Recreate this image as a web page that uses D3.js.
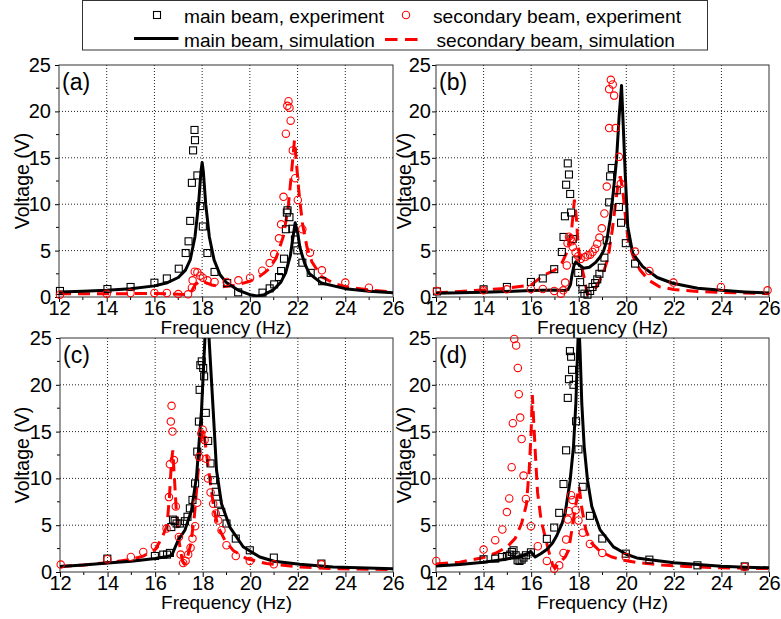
<!DOCTYPE html>
<html><head><meta charset="utf-8">
<script src="https://cdn.jsdelivr.net/npm/d3@7"></script>
<style>body{margin:0;background:#fff} text{font-family:"Liberation Sans",Arial,sans-serif}</style>
</head><body><svg id="chart" width="781" height="619"></svg>
<script>
// ---------- tick labels ----------
const xTicks = [12,14,16,18,20,22,24,26];
const yTicks = [0,5,10,15,20,25];
const xMinor = [13,15,17,19,21,23,25];
const yMinor = [2.5,7.5,12.5,17.5,22.5];
const panelLabels = ["(a)","(b)","(c)","(d)"];
const legendLabels = ["main beam, experiment","secondary beam, experiment","main beam, simulation","secondary beam, simulation"];

// ---------- panel (a) ----------
const aMainExp = [[12.04,0.65],[14.03,0.86],[15.0,1.08],[16.0,1.54],[16.52,2.0],[17.02,3.05],[17.31,4.74],[17.43,6.0],[17.5,8.2],[17.57,12.3],[17.62,15.8],[17.7,16.9],[17.68,18.0],[17.8,13.1],[17.92,9.8],[18.03,7.6],[18.22,4.74],[18.52,2.7],[19.05,1.5],[19.51,0.5],[20.53,0.47],[20.83,0.93],[21.02,1.36],[21.22,2.15],[21.31,2.8],[21.43,4.13],[21.51,7.3],[21.55,9.1],[21.58,9.34],[21.66,8.6],[21.78,7.36],[21.89,6.2],[21.99,5.03],[22.2,3.7],[22.55,2.6],[23.03,1.7]];
const aSecExp = [[12.04,0.25],[14.0,0.36],[15.0,0.43],[16.0,0.43],[16.52,0.43],[17.0,0.32],[17.41,0.29],[17.57,1.0],[17.6,1.8],[17.69,2.73],[17.8,2.66],[17.92,2.3],[18.03,2.08],[18.22,1.8],[18.52,1.62],[19.03,1.62],[19.52,1.8],[20.01,2.08],[20.52,2.84],[20.83,3.66],[21.02,4.63],[21.22,6.32],[21.31,7.83],[21.41,10.8],[21.51,17.6],[21.57,20.6],[21.62,21.1],[21.66,20.4],[21.71,19.0],[21.8,15.8],[21.9,12.8],[22.01,10.45],[22.2,7.3],[22.52,4.78],[23.02,2.87],[24.0,1.55],[24.99,1.0]];
const aMainSim = [[12,0.55],[13,0.62],[14,0.72],[15,0.88],[16,1.2],[16.5,1.5],[17,2.1],[17.3,2.9],[17.5,4.0],[17.7,6.5],[17.85,10],[17.95,13.5],[18.0,14.5],[18.05,13.5],[18.15,10],[18.3,6.5],[18.5,4.0],[18.75,2.4],[19,1.6],[19.5,0.75],[20,0.25],[20.3,0.1],[20.6,0.25],[21,0.8],[21.3,1.6],[21.5,2.6],[21.7,4.5],[21.8,6.3],[21.9,8.0],[22.0,7.0],[22.1,5.3],[22.3,3.6],[22.5,2.5],[23,1.5],[24,0.9],[25,0.62],[26,0.45]];
const aSecSim = [[12,0.35],[14,0.35],[16,0.38],[17,0.3],[17.4,0.25],[17.55,0.6],[17.7,1.3],[17.9,1.7],[18.1,1.6],[18.4,1.3],[18.8,1.1],[19.2,1.2],[19.6,1.4],[20.0,1.7],[20.4,2.2],[20.8,3.0],[21.1,4.2],[21.4,6.5],[21.6,9.5],[21.75,13.5],[21.87,16.9],[21.95,14.5],[22.05,11.5],[22.2,8.0],[22.4,5.3],[22.6,3.8],[23,2.2],[23.5,1.5],[24,1.1],[25,0.75],[26,0.55]];

// ---------- panel (b) ----------
const bMainExp = [[12.04,0.6],[14.0,0.83],[14.98,1.08],[15.99,1.62],[16.49,2.0],[16.97,3.0],[17.29,4.85],[17.36,6.47],[17.42,8.7],[17.47,12.1],[17.54,14.4],[17.59,13.2],[17.64,11.1],[17.68,9.1],[17.75,6.25],[17.88,3.95],[17.98,2.6],[18.06,1.6],[18.16,0.86],[18.24,0.36],[18.37,0.25],[18.48,0.65],[18.58,1.08],[18.69,1.5],[18.78,1.9],[18.87,2.5],[18.97,3.16],[19.08,4.24],[19.18,6.1],[19.28,10.2],[19.32,13.0],[19.39,13.9],[19.6,11.5],[19.69,9.7],[19.78,8.0],[19.98,5.8],[20.37,3.6]];
const bSecExp = [[12.04,0.65],[14.0,0.72],[14.98,0.83],[15.99,0.86],[16.49,0.86],[16.97,0.65],[17.25,0.36],[17.35,0.72],[17.43,1.55],[17.5,3.4],[17.53,5.8],[17.59,6.5],[17.66,6.3],[17.71,6.0],[17.75,5.4],[17.87,4.8],[17.98,4.4],[18.08,4.1],[18.27,4.3],[18.38,4.5],[18.48,4.56],[18.58,4.85],[18.69,5.2],[18.78,5.75],[18.87,6.4],[18.97,7.4],[19.08,9.0],[19.18,11.9],[19.28,18.2],[19.28,22.4],[19.35,23.4],[19.43,22.9],[19.49,21.7],[19.55,18.2],[19.69,15.1],[19.77,12.2],[20.37,4.9],[20.97,2.8],[21.98,1.55],[23.98,1.08],[25.94,0.72]];
const bMainSim = [[12,0.4],[13,0.45],[14,0.52],[15,0.6],[16,0.7],[16.5,0.74],[17,0.75],[17.4,0.7],[17.55,0.8],[17.65,1.3],[17.72,2.4],[17.8,3.4],[17.88,3.8],[18.0,3.5],[18.2,3.1],[18.45,3.2],[18.7,3.7],[18.9,4.3],[19.05,5.0],[19.18,6.1],[19.32,8.3],[19.45,11.2],[19.59,14.8],[19.7,19.5],[19.8,22.8],[19.88,18],[19.96,13],[20.06,7.6],[20.27,4.7],[20.69,3.27],[21.3,2.1],[21.95,1.48],[23,0.95],[24,0.72],[25,0.55],[26,0.43]];
const bSecSim = [[12,0.45],[13,0.6],[14,0.75],[15,0.95],[16,1.3],[16.5,2.3],[17,2.9],[17.3,3.7],[17.5,4.8],[17.7,7.2],[17.82,10.5],[17.91,8.3],[17.96,6.1],[18.05,4.0],[18.22,2.2],[18.36,0.3],[18.5,0.5],[18.75,1.1],[19.03,2.55],[19.24,4.3],[19.41,7.2],[19.55,10.1],[19.66,12.25],[19.75,13.0],[19.85,11.5],[19.98,8.3],[20.08,6.1],[20.3,4.3],[20.58,2.9],[20.93,1.83],[21.4,1.1],[22,0.8],[23,0.6],[24,0.5],[25,0.42],[26,0.36]];

// ---------- panel (c) ----------
const cMainExp = [[13.99,1.43],[15.99,1.71],[16.34,1.86],[16.5,1.86],[16.62,2.04],[16.68,4.8],[16.75,5.6],[16.82,5.46],[16.9,5.18],[17.04,5.18],[17.25,5.43],[17.36,5.9],[17.46,6.8],[17.57,7.7],[17.68,9.46],[17.77,12.86],[17.84,16.07],[17.87,19.46],[17.9,22.1],[17.96,22.5],[18.02,21.8],[18.06,20.9],[18.13,17.0],[18.23,14.0],[18.33,11.6],[18.44,9.8],[18.55,8.57],[18.65,7.3],[18.78,6.4],[19.0,5.18],[19.39,3.57],[19.98,2.32],[20.99,1.54],[22.99,0.9]];
const cSecExp = [[12.03,0.79],[13.99,1.36],[14.98,1.6],[15.5,2.14],[15.99,2.79],[16.48,4.64],[16.58,8.0],[16.62,11.5],[16.66,16.07],[16.69,17.75],[16.73,15.0],[16.79,11.96],[16.87,7.0],[17.0,3.75],[17.07,1.86],[17.18,0.96],[17.28,1.18],[17.39,1.86],[17.49,2.6],[17.57,3.57],[17.68,4.9],[17.77,7.4],[17.85,12.3],[17.94,14.8],[18.0,15.2],[18.08,14.1],[18.15,12.1],[18.22,10.0],[18.33,8.5],[18.44,7.3],[18.55,6.25],[18.65,5.5],[18.79,4.46],[19.0,2.86],[19.39,1.71],[19.98,1.18],[20.99,0.82],[22.99,0.82]];
const cMainSim = [[12,0.6],[13,0.75],[14,0.95],[15,1.15],[16,1.45],[16.5,1.65],[16.7,1.78],[16.85,2.7],[16.97,3.4],[17.25,4.46],[17.53,6.6],[17.74,10.2],[17.95,17.3],[18.09,24.8],[18.17,28],[18.27,24.8],[18.44,17.3],[18.58,10.9],[18.79,7.3],[19.14,4.8],[19.7,2.7],[20.4,1.6],[21,1.15],[22.08,0.82],[23.48,0.54],[26,0.36]];
const cSecSim = [[12,0.6],[13,0.75],[14,1.0],[15,1.35],[15.5,1.7],[16,2.4],[16.3,3.7],[16.5,5.0],[16.6,8.0],[16.68,11.5],[16.74,13.0],[16.8,10.5],[16.88,7.0],[16.97,4.1],[17.05,2.5],[17.15,1.2],[17.22,0.9],[17.35,1.5],[17.5,3.0],[17.65,6.0],[17.8,10.5],[17.92,14.0],[18.02,15.2],[18.12,13.5],[18.23,11.2],[18.35,9.0],[18.48,6.6],[18.65,4.8],[18.93,3.4],[19.28,2.3],[19.84,1.43],[20.68,0.9],[22.08,0.54],[23.48,0.36],[26,0.25]];

// ---------- panel (d) ----------
const dMainExp = [[14.0,1.36],[14.49,1.43],[14.77,1.6],[14.98,1.71],[15.12,1.86],[15.19,2.14],[15.26,2.32],[15.35,1.79],[15.43,1.25],[15.51,1.18],[15.6,1.32],[15.68,1.54],[15.78,1.79],[15.99,2.1],[16.66,3.54],[16.97,4.75],[17.18,6.32],[17.36,9.4],[17.47,13.0],[17.54,18.6],[17.59,20.6],[17.63,23.6],[17.68,23.0],[17.72,21.6],[17.78,20.0],[17.89,16.1],[17.99,13.1],[18.17,9.1],[18.47,6.0],[18.99,3.57],[19.98,1.96],[20.97,1.32],[22.99,0.71],[24.98,0.6]];
const dSecExp = [[12.01,1.18],[14.0,2.4],[14.49,3.4],[14.79,4.54],[14.98,6.4],[15.08,7.86],[15.18,11.2],[15.23,15.9],[15.29,24.9],[15.37,24.2],[15.44,21.8],[15.48,19.0],[15.54,16.5],[15.6,14.2],[15.68,10.3],[15.78,7.8],[15.99,4.9],[16.28,2.75],[16.66,1.18],[16.97,0.36],[17.18,0.71],[17.36,2.04],[17.47,3.46],[17.54,5.6],[17.59,6.5],[17.68,8.2],[17.74,7.7],[17.87,6.6],[17.99,5.5],[18.17,4.2],[18.47,3.0],[18.99,2.04],[19.98,1.6],[24.98,0.54]];
const dMainSim = [[12,0.65],[13,0.8],[14,1.05],[15,1.4],[15.5,1.65],[15.8,1.9],[15.98,2.2],[16.17,1.6],[16.4,1.95],[16.66,2.4],[16.9,3.1],[17.08,3.9],[17.3,5.2],[17.43,6.3],[17.64,9.8],[17.78,13.4],[17.88,18],[17.95,23.4],[18.0,27],[18.06,23.4],[18.13,18],[18.23,13.4],[18.37,9.8],[18.55,7.0],[18.9,4.5],[19.46,2.68],[20.0,1.9],[20.44,1.5],[21,1.3],[22,1.0],[23,0.8],[24,0.62],[25,0.52],[26,0.45]];
const dSecSim = [[12,0.85],[13,1.05],[13.5,1.3],[14,1.55],[14.5,2.0],[15.0,2.7],[15.33,3.6],[15.6,5.2],[15.8,7.2],[15.92,11],[16.0,15],[16.05,18.9],[16.1,16.5],[16.18,12.5],[16.27,8.5],[16.42,5.5],[16.59,3.75],[16.73,2.3],[16.9,0.8],[17.0,0.4],[17.15,0.9],[17.43,1.6],[17.57,2.3],[17.7,4.3],[17.85,6.8],[18.02,9.1],[18.13,6.8],[18.3,4.5],[18.5,3.2],[18.9,2.2],[19.4,1.6],[19.9,1.25],[20.5,1.0],[21.5,0.75],[22.5,0.6],[24,0.45],[26,0.36]];

// ---------- layout ----------
const RED = "#ff0000";
const panels = [
  {label:panelLabels[0], x0:59,  x1:393, y0:65,  y1:297, gap:6, vx:29,  mainExp:aMainExp, secExp:aSecExp, mainSim:aMainSim, secSim:aSecSim},
  {label:panelLabels[1], x0:436, x1:769, y0:65,  y1:297, gap:3, vx:411, mainExp:bMainExp, secExp:bSecExp, mainSim:bMainSim, secSim:bSecSim},
  {label:panelLabels[2], x0:60,  x1:393, y0:338, y1:572, gap:6, vx:29,  mainExp:cMainExp, secExp:cSecExp, mainSim:cMainSim, secSim:cSecSim},
  {label:panelLabels[3], x0:436, x1:769, y0:338, y1:572, gap:3, vx:411, mainExp:dMainExp, secExp:dSecExp, mainSim:dMainSim, secSim:dSecSim}
];

const svg = d3.select("#chart");
svg.append("rect").attr("width",781).attr("height",619).attr("fill","#fff");

panels.forEach((p,i) => {
  const x = d3.scaleLinear().domain([12,26]).range([p.x0,p.x1]);
  const y = d3.scaleLinear().domain([0,25]).range([p.y1,p.y0]);
  const g = svg.append("g");
  const cid = "clip"+i;
  svg.append("clipPath").attr("id",cid).append("rect")
    .attr("x",p.x0).attr("y",p.y0).attr("width",p.x1-p.x0).attr("height",p.y1-p.y0);

  // grid
  g.append("g").selectAll("line").data(xTicks.slice(1,-1)).join("line")
    .attr("x1",d=>x(d)).attr("x2",d=>x(d)).attr("y1",p.y0).attr("y2",p.y1)
    .attr("stroke","#222").attr("stroke-width",1).attr("stroke-dasharray","1,2");
  g.append("g").selectAll("line").data(yTicks.slice(1,-1)).join("line")
    .attr("y1",d=>y(d)).attr("y2",d=>y(d)).attr("x1",p.x0).attr("x2",p.x1)
    .attr("stroke","#222").attr("stroke-width",1).attr("stroke-dasharray","1,2");

  // axes
  const ax = g.append("g").attr("transform",`translate(0,${p.y1})`)
    .call(d3.axisBottom(x).tickValues(xTicks).tickSize(5).tickFormat(d3.format("d")));
  ax.append("g").selectAll("line").data(xMinor).join("line")
    .attr("x1",d=>x(d)).attr("x2",d=>x(d)).attr("y1",0).attr("y2",3).attr("stroke","#000");
  const ay = g.append("g").attr("transform",`translate(${p.x0},0)`)
    .call(d3.axisLeft(y).tickValues(yTicks).tickSize(4).tickPadding(p.gap-2).tickFormat(d3.format("d")));
  ay.append("g").selectAll("line").data(yMinor).join("line")
    .attr("y1",d=>y(d)).attr("y2",d=>y(d)).attr("x1",0).attr("x2",-3).attr("stroke","#000");
  [ax,ay].forEach(a=>{
    a.select(".domain").remove();
    a.selectAll(".tick line").attr("stroke","#000");
    a.selectAll(".tick text").attr("font-size",20).attr("fill","#000").attr("font-family","Liberation Sans, Arial, sans-serif");
  });
  ax.selectAll(".tick text").attr("y",18).attr("dy",0);

  // frame
  g.append("rect").attr("x",p.x0).attr("y",p.y0).attr("width",p.x1-p.x0).attr("height",p.y1-p.y0)
    .attr("fill","none").attr("stroke","#333").attr("stroke-width",1);

  // axis titles
  g.append("text").attr("x",(p.x0+p.x1)/2).attr("y",p.y1+36.5).attr("text-anchor","middle")
    .attr("font-size",19).text("Frequency (Hz)");
  g.append("text").attr("transform",`translate(${p.vx},${(p.y0+p.y1)/2}) rotate(-90)`)
    .attr("text-anchor","middle").attr("font-size",19.5).text("Voltage (V)");

  // lines
  const line = d3.line().x(d=>x(d[0])).y(d=>y(d[1]));
  const lg = g.append("g").attr("clip-path",`url(#${cid})`);
  lg.append("path").datum(p.secSim).attr("d",line).attr("fill","none")
    .attr("stroke",RED).attr("stroke-width",3).attr("stroke-dasharray","12,7");
  lg.append("path").datum(p.mainSim).attr("d",line).attr("fill","none")
    .attr("stroke","#000").attr("stroke-width",3).attr("stroke-linejoin","round");

  // markers
  g.append("g").selectAll("rect").data(p.mainExp).join("rect")
    .attr("x",d=>x(d[0])-3.5).attr("y",d=>y(d[1])-3.5).attr("width",7).attr("height",7)
    .attr("fill","none").attr("stroke","#000").attr("stroke-width",1.1);
  g.append("g").selectAll("circle").data(p.secExp).join("circle")
    .attr("cx",d=>x(d[0])).attr("cy",d=>y(d[1])).attr("r",3.7)
    .attr("fill","none").attr("stroke",RED).attr("stroke-width",1.1);

  // panel label
  g.append("text").attr("x",p.x0+3).attr("y",p.y0+24.5).attr("font-size",23).text(p.label);
});

// ---------- legend ----------
const L = svg.append("g");
L.append("rect").attr("x",82.5).attr("y",0.5).attr("width",625).attr("height",49.5)
  .attr("fill","#fff").attr("stroke","#333").attr("stroke-width",1);
L.append("rect").attr("x",153.5).attr("y",11.5).attr("width",7).attr("height",7)
  .attr("fill","none").attr("stroke","#000").attr("stroke-width",1.1);
L.append("circle").attr("cx",406).attr("cy",15).attr("r",3.7)
  .attr("fill","none").attr("stroke",RED).attr("stroke-width",1.1);
L.append("line").attr("x1",134).attr("x2",178.5).attr("y1",38.5).attr("y2",38.5)
  .attr("stroke","#000").attr("stroke-width",3);
L.append("line").attr("x1",385).attr("x2",417.5).attr("y1",39.5).attr("y2",39.5)
  .attr("stroke",RED).attr("stroke-width",3).attr("stroke-dasharray","12.5,7.5");
const legPos = [[184,23,200],[433,23,248],[184,46.5,191],[436.5,46.5,238.5]];
legendLabels.forEach((t,i)=>{
  L.append("text").attr("x",legPos[i][0]).attr("y",legPos[i][1]).attr("font-size",19)
    .attr("textLength",legPos[i][2]).attr("lengthAdjust","spacingAndGlyphs").text(t);
});
</script></body></html>
